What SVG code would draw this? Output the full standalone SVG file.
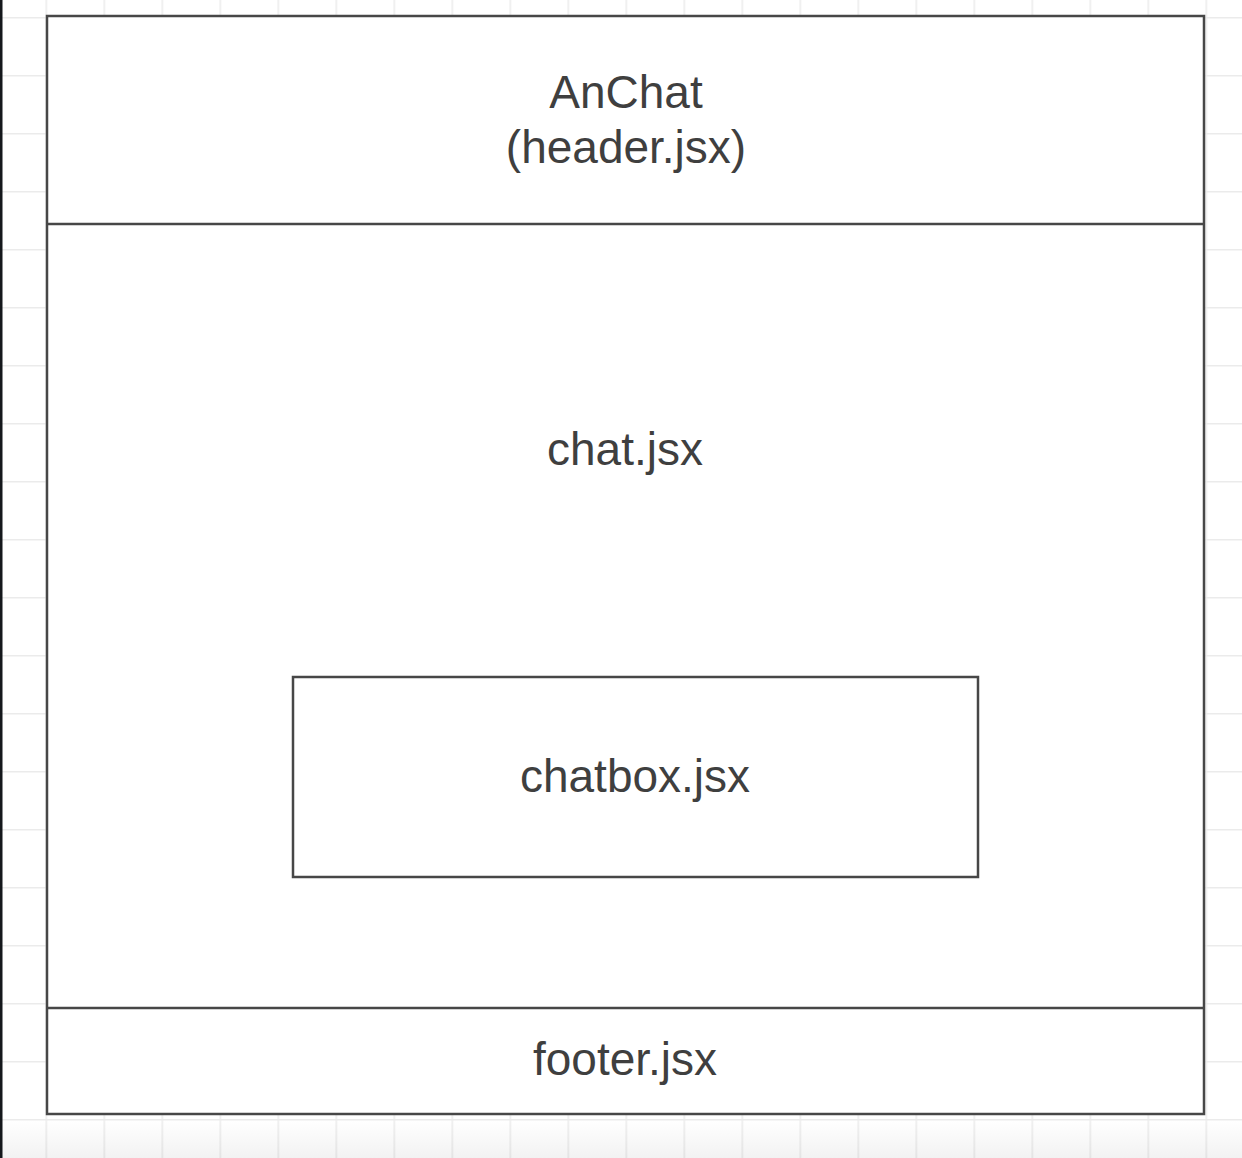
<svg xmlns="http://www.w3.org/2000/svg" width="1242" height="1158" viewBox="0 0 1242 1158">
  <defs>
    <style>
      .grid line { stroke: #ebebeb; stroke-width: 2; }
      .box { fill: #ffffff; stroke: #474747; stroke-width: 2.5; }
      .div { stroke: #474747; stroke-width: 2.5; }
      .lbl { font-family: "Liberation Sans", Arial, sans-serif; font-size: 46px; fill: #3f3f3f; text-anchor: middle; }
    </style>
    <linearGradient id="fade" x1="0" y1="0" x2="0" y2="1">
      <stop offset="0" stop-color="#000000" stop-opacity="0"/>
      <stop offset="1" stop-color="#000000" stop-opacity="0.05"/>
    </linearGradient>
    <pattern id="gridpat" x="45.5" y="17" width="58" height="58" patternUnits="userSpaceOnUse">
      <path d="M0 0 H58 M0 0 V58" fill="none" stroke="#ebebeb" stroke-width="3"/>
    </pattern>
  </defs>
  <rect x="0" y="0" width="1242" height="1158" fill="#ffffff"/>
  <rect x="0" y="0" width="1242" height="1158" fill="url(#gridpat)"/>
  <rect x="0" y="1120" width="1242" height="38" fill="url(#fade)"/>
  <rect x="0" y="0" width="2.5" height="1158" fill="#15181c"/>

  <g id="app">
    <rect class="box" x="47" y="16" width="1157" height="1098"/>
  </g>
  <g id="header">
    <line class="div" x1="47" y1="224" x2="1204" y2="224"/>
    <text class="lbl" x="626" y="108">AnChat</text>
    <text class="lbl" x="626" y="163">(header.jsx)</text>
  </g>
  <g id="chat">
    <text class="lbl" x="625" y="465">chat.jsx</text>
  </g>
  <g id="chatbox">
    <rect class="box" x="293" y="677" width="685" height="200"/>
    <text class="lbl" x="635" y="792">chatbox.jsx</text>
  </g>
  <g id="footer">
    <line class="div" x1="47" y1="1008" x2="1204" y2="1008"/>
    <text class="lbl" x="625" y="1075">footer.jsx</text>
  </g>
  <g id="connectors"></g>
</svg>
